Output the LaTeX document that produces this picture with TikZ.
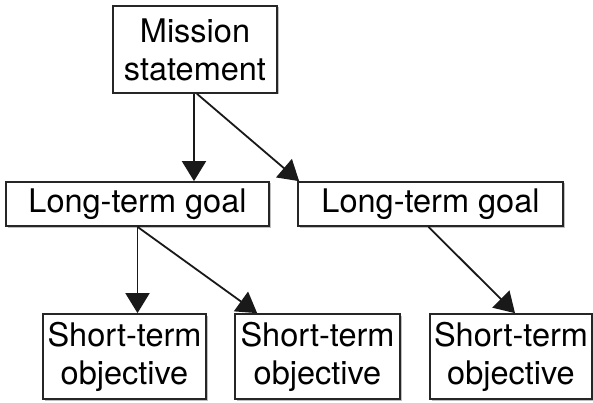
\documentclass[tikz,border=0pt]{standalone}
\usepackage{fontspec}
\setmainfont{TeX Gyre Heros}
\usetikzlibrary{arrows.meta,shadows}
\begin{document}
\begin{tikzpicture}[x=1pt,y=-1pt,
  box/.style={draw=black!85, line width=1.7pt, fill=white, rectangle, inner sep=0pt,
    align=center, font=\fontsize{32.5}{38}\selectfont,
    drop shadow={shadow xshift=1.5pt, shadow yshift=-1.5pt, opacity=0.25, fill=black}},
  link/.style={line width=1.8pt, draw=black!90, -{Triangle[length=20pt,width=24pt]}}]
  \useasboundingbox (0,0) rectangle (593,403);
  % hierarchy: mission -> long-term goals -> short-term objectives
  \node[box, minimum width=164pt, minimum height=87pt] (m) at (195,49.5) {Mission\\statement};
  \node[box, minimum width=263pt, minimum height=44pt] (l1) at (137.5,204) {Long-term goal};
  \node[box, minimum width=265pt, minimum height=44pt] (l2) at (430.5,204) {Long-term goal};
  \node[box, minimum width=163pt, minimum height=85pt] (s1) at (124.5,356.5) {Short-term\\objective};
  \node[box, minimum width=165pt, minimum height=85pt] (s2) at (317.5,356.5) {Short-term\\objective};
  \node[box, minimum width=162pt, minimum height=85pt] (s3) at (511,356.5) {Short-term\\objective};
  \coordinate (m1) at ([xshift=-1pt]m.south);
  \coordinate (m2) at ([xshift=2pt]m.south);
  \coordinate (t2) at ([xshift=2pt]l2.north west);
  \coordinate (t4) at ([xshift=23pt]s2.north west);
  \coordinate (t5) at ([xshift=4pt]s3.north);
  \draw[link] (m1) -- (m1 |- l1.north);
  \draw[link] (m2) -- (t2);
  \draw[link] (l1.south) -- (l1.south |- s1.north);
  \draw[link] (l1.south) -- (t4);
  \draw[link] ([xshift=-2pt]l2.south) -- (t5);
\end{tikzpicture}
\end{document}
